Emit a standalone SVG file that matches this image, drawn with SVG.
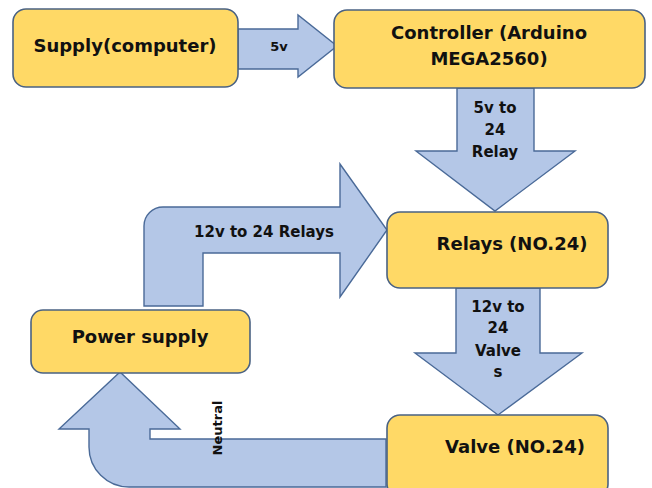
<svg xmlns="http://www.w3.org/2000/svg" width="652" height="488" viewBox="0 0 652 488">
  <style>
    .box { fill: #FFD966; stroke: #4A6283; stroke-width: 1.6; }
    .arrow { fill: #B4C7E7; stroke: #4A6A98; stroke-width: 1.4; stroke-linejoin: miter; }
    text { font-family: "DejaVu Sans", "Liberation Sans", sans-serif; font-weight: bold; fill: #111; }
    .big { font-size: 18px; }
    .mid { font-size: 15px; text-anchor: middle; }
    .small { font-size: 13px; text-anchor: middle; }
    .c { text-anchor: middle; }
  </style>
  <rect width="652" height="488" fill="#ffffff"/>

  <g id="connectors">
    <g id="arrow-5v">
      <polygon class="arrow" points="238,29 298,29 298,15 337,46 298,77 298,69 238,69"/>
      <text class="small" x="279" y="51">5v</text>
    </g>
    <g id="arrow-5v-to-24-relay">
      <polygon class="arrow" points="457,88 534,88 534,151 575,151 495,211 416,151 457,151"/>
      <text class="mid" x="495" y="113">5v to</text>
      <text class="mid" x="495" y="135">24</text>
      <text class="mid" x="495" y="157">Relay</text>
    </g>
    <g id="arrow-12v-to-24-relays">
      <path class="arrow" d="M144,306 L144,226 A19,19 0 0 1 163,207 L340,207 L340,164 L387,230 L340,297 L340,253 L203,253 L203,306 Z"/>
      <text class="mid" x="264" y="237">12v to 24 Relays</text>
    </g>
    <g id="arrow-12v-to-24-valves">
      <polygon class="arrow" points="456,288 540,288 540,353 582,353 498,415 415,353 456,353"/>
      <text class="mid" x="498" y="312">12v to</text>
      <text class="mid" x="498" y="333">24</text>
      <text class="mid" x="498" y="356">Valve</text>
      <text class="mid" x="498" y="377">s</text>
    </g>
    <g id="arrow-neutral">
      <path class="arrow" d="M386,439 L150,439 L150,429 L180,429 L120,372 L59,429 L89,429 L89,447 A40,40 0 0 0 129,487 L386,487 Z"/>
      <text class="small" transform="translate(222,428) rotate(-90)" x="0" y="0">Neutral</text>
    </g>
  </g>

  <g id="node-supply">
    <rect class="box" x="13" y="9" width="225" height="78" rx="13"/>
    <text class="big c" x="125" y="52">Supply(computer)</text>
  </g>
  <g id="node-controller">
    <rect class="box" x="334" y="10" width="311" height="78" rx="13"/>
    <text class="big c" x="489" y="39">Controller (Arduino</text>
    <text class="big c" x="489" y="65">MEGA2560)</text>
  </g>
  <g id="node-relays">
    <rect class="box" x="387" y="212" width="221" height="76" rx="13"/>
    <text class="big c" x="512" y="250">Relays (NO.24)</text>
  </g>
  <g id="node-power-supply">
    <rect class="box" x="31" y="310" width="219" height="63" rx="12"/>
    <text class="big c" x="140" y="343">Power supply</text>
  </g>
  <g id="node-valve">
    <rect class="box" x="387" y="415" width="221" height="82" rx="13"/>
    <text class="big c" x="515" y="453">Valve (NO.24)</text>
  </g>
</svg>
